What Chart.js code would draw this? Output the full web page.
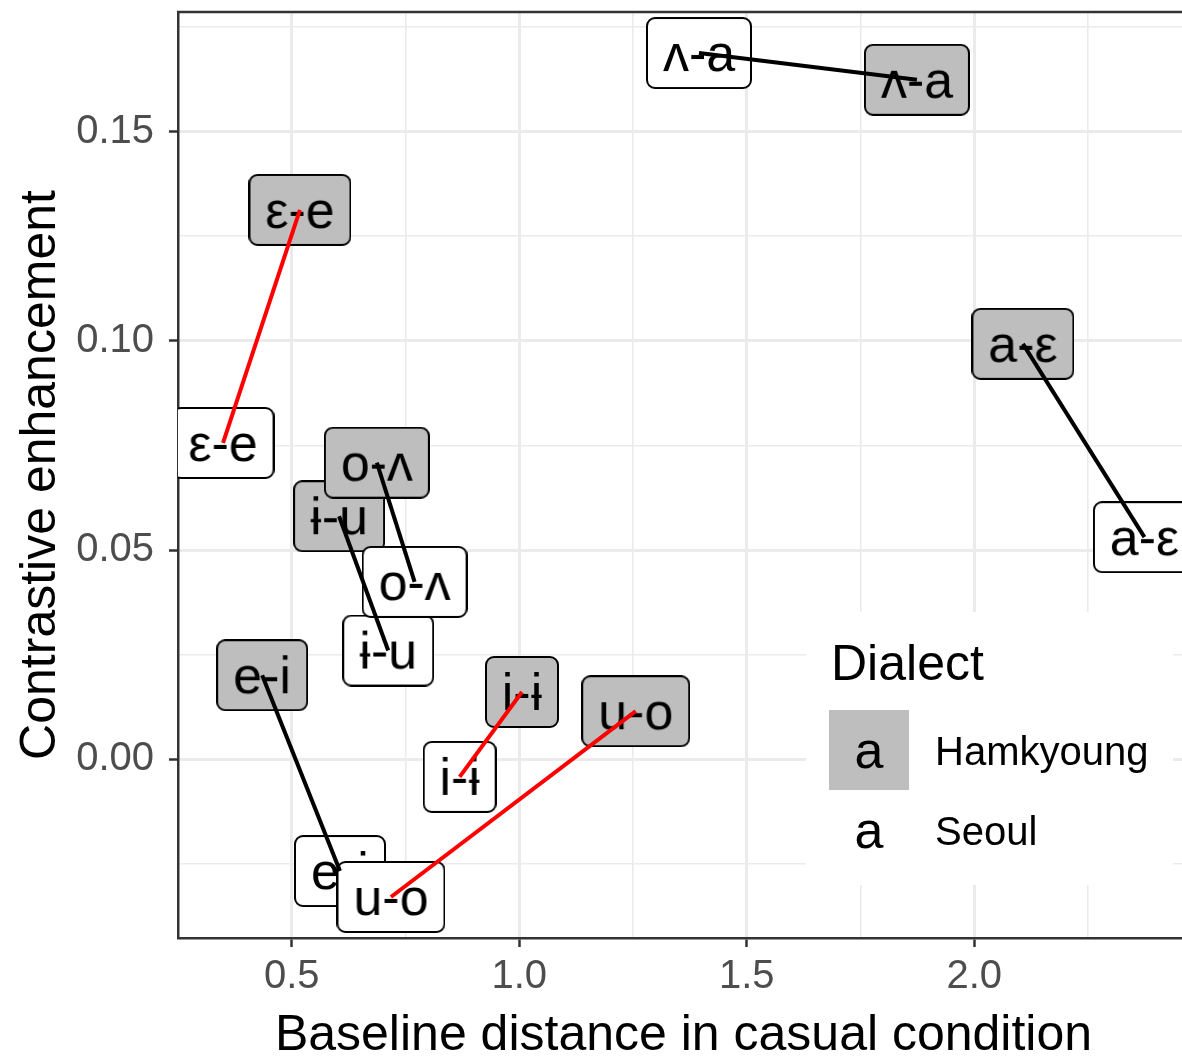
<!DOCTYPE html>
<html>
<head>
<meta charset="utf-8">
<script src="https://cdn.jsdelivr.net/npm/chart.js@4.4.1/dist/chart.umd.min.js"></script>
<style>
  html, body { margin: 0; padding: 0; background: #fff; overflow: hidden; }
</style>
</head>
<body>
<canvas id="chart" width="1200" height="1057"></canvas>
<script>
// vowel pairs, same order for both dialects
var pairs = ['ʌ-a', 'ε-e', 'a-ε', 'ɨ-u', 'o-ʌ', 'e-i', 'i-ɨ', 'u-o'];
var pairColors = ['#000000', '#FF0000', '#000000', '#000000', '#000000', '#000000', '#FF0000', '#FF0000'];

var dialects = ['Hamkyoung', 'Seoul'];
var dialectFills = ['#BEBEBE', '#FFFFFF'];

var hamX = [1.874, 0.518, 2.107, 0.604, 0.687, 0.435, 1.006, 1.256];
var hamY = [0.1624, 0.1313, 0.0993, 0.0581, 0.0709, 0.0201, 0.0161, 0.0115];
var seoulX = [1.395, 0.349, 2.374, 0.712, 0.770, 0.606, 0.869, 0.718];
var seoulY = [0.1688, 0.0756, 0.0531, 0.0260, 0.0424, -0.0267, -0.0042, -0.0329];

var xTicks = [0.25, 0.5, 0.75, 1.0, 1.25, 1.5, 1.75, 2.0, 2.25];
var yTicks = [-0.025, 0, 0.025, 0.05, 0.075, 0.10, 0.125, 0.15, 0.175];

var FONT = '"Liberation Sans", Arial, sans-serif';

// rounded label box drawn once per pair and used as the point style
function makeLabel(text, fill) {
  var tmp = document.createElement('canvas').getContext('2d');
  tmp.font = '52px ' + FONT;
  var tw = tmp.measureText(text).width;
  var c = document.createElement('canvas');
  c.width = Math.round(tw + 34);
  c.height = 72;
  var g = c.getContext('2d');
  g.beginPath();
  g.roundRect(1, 1, c.width - 2, 70, 8);
  g.fillStyle = fill;
  g.fill();
  g.lineWidth = 2;
  g.strokeStyle = '#000';
  g.stroke();
  g.fillStyle = '#000';
  g.font = '52px ' + FONT;
  g.textAlign = 'center';
  g.textBaseline = 'alphabetic';
  g.fillText(text, c.width / 2, 36 + 18);
  return c;
}

var hamLabels = pairs.map(function(p) { return makeLabel(p, dialectFills[0]); });
var seoulLabels = pairs.map(function(p) { return makeLabel(p, dialectFills[1]); });

var datasets = [];

// segments get the lowest order so they are drawn over the label boxes
pairs.forEach(function(p, i) {
  datasets.push({
    type: 'line',
    label: p,
    data: [{x: seoulX[i], y: seoulY[i]}, {x: hamX[i], y: hamY[i]}],
    borderColor: pairColors[i],
    borderWidth: 4,
    pointRadius: 0,
    order: 0
  });
});

datasets.push({
  type: 'scatter',
  label: dialects[1],
  data: seoulX.map(function(x, i) { return {x: x, y: seoulY[i]}; }),
  pointStyle: seoulLabels,
  pointRadius: 5,
  pointBorderWidth: 0,
  order: 1
});
datasets.push({
  type: 'scatter',
  label: dialects[0],
  data: hamX.map(function(x, i) { return {x: x, y: hamY[i]}; }),
  pointStyle: hamLabels,
  pointRadius: 5,
  pointBorderWidth: 0,
  order: 2
});

function isMajor(v, step) {
  return Math.abs(v / step - Math.round(v / step)) < 1e-6;
}

var panelBorder = {
  id: 'panelBorder',
  afterDraw: function(chart) {
    var a = chart.chartArea, ctx = chart.ctx;
    ctx.save();
    ctx.strokeStyle = '#333333';
    ctx.lineWidth = 2.5;
    ctx.beginPath();
    ctx.moveTo(a.left - 1, a.top);
    ctx.lineTo(a.right + 1, a.top);
    ctx.moveTo(a.right, a.top);
    ctx.lineTo(a.right, a.bottom);
    ctx.stroke();
    ctx.restore();
  }
};

// legend inside the panel, bottom right
var dialectLegend = {
  id: 'dialectLegend',
  afterDraw: function(chart) {
    var a = chart.chartArea, ctx = chart.ctx;
    var right = a.right - 16, bottom = a.bottom - 53;
    var left = 806, top = 612;
    ctx.save();
    ctx.fillStyle = '#FFFFFF';
    ctx.fillRect(left, top, right - left, bottom - top);

    ctx.fillStyle = '#000';
    ctx.font = '50px ' + FONT;
    ctx.textAlign = 'left';
    ctx.textBaseline = 'alphabetic';
    ctx.fillText('Dialect', 831, 680);

    dialects.forEach(function(d, i) {
      var cy = 750 + i * 80;
      ctx.fillStyle = dialectFills[i];
      ctx.fillRect(829, cy - 40, 80, 80);
      ctx.fillStyle = '#000';
      ctx.font = '52px ' + FONT;
      ctx.textAlign = 'center';
      ctx.fillText('a', 869, cy + 18);
      ctx.font = '40px ' + FONT;
      ctx.textAlign = 'left';
      ctx.fillText(d, 935, cy + 15);
    });
    ctx.restore();
  }
};

var ctx = document.getElementById('chart').getContext('2d');
var chart = new Chart(ctx, {
  type: 'scatter',
  data: { datasets: datasets },
  options: {
    responsive: false,
    animation: false,
    devicePixelRatio: 1,
    layout: { padding: { left: 0, top: 12, right: 11, bottom: 0 } },
    plugins: {
      legend: { display: false },
      tooltip: { enabled: false }
    },
    scales: {
      x: {
        type: 'linear',
        min: 0.25,
        max: 2.472,
        afterBuildTicks: function(scale) {
          scale.ticks = xTicks.map(function(v) { return {value: v}; });
        },
        afterFit: function(scale) {
          scale.height = 119;
          scale.paddingLeft = 0;
          scale.paddingRight = 0;
        },
        ticks: {
          autoSkip: false,
          maxRotation: 0,
          padding: 6,
          color: '#4D4D4D',
          font: { size: 40, family: FONT },
          callback: function(v) { return isMajor(v, 0.5) ? v.toFixed(1) : ''; }
        },
        grid: {
          color: '#EBEBEB',
          lineWidth: function(c) { return isMajor(c.tick.value, 0.5) ? 3 : 1.6; },
          tickColor: function(c) { return isMajor(c.tick.value, 0.5) ? '#333333' : 'rgba(0,0,0,0)'; },
          tickLength: 9,
          tickWidth: 2.5
        },
        border: { color: '#333333', width: 2.5 },
        title: {
          display: true,
          text: 'Baseline distance in casual condition',
          color: '#000',
          font: { size: 50, family: FONT, lineHeight: 1 },
          padding: { top: 0, bottom: -4 }
        }
      },
      y: {
        type: 'linear',
        min: -0.0427,
        max: 0.1786,
        afterBuildTicks: function(scale) {
          scale.ticks = yTicks.map(function(v) { return {value: v}; });
        },
        afterFit: function(scale) {
          scale.width = 178;
          scale.paddingTop = 0;
          scale.paddingBottom = 0;
        },
        ticks: {
          autoSkip: false,
          padding: 15,
          color: '#4D4D4D',
          font: { size: 40, family: FONT },
          callback: function(v) { return isMajor(v, 0.05) ? v.toFixed(2) : ''; }
        },
        grid: {
          color: '#EBEBEB',
          lineWidth: function(c) { return isMajor(c.tick.value, 0.05) ? 3 : 1.6; },
          tickColor: function(c) { return isMajor(c.tick.value, 0.05) ? '#333333' : 'rgba(0,0,0,0)'; },
          tickLength: 9,
          tickWidth: 2.5
        },
        border: { color: '#333333', width: 2.5 },
        title: {
          display: true,
          text: 'Contrastive enhancement',
          color: '#000',
          font: { size: 50, family: FONT, lineHeight: 1.2 },
          padding: { top: 11, bottom: 0 }
        }
      }
    }
  },
  plugins: [panelBorder, dialectLegend]
});
</script>
</body>
</html>
